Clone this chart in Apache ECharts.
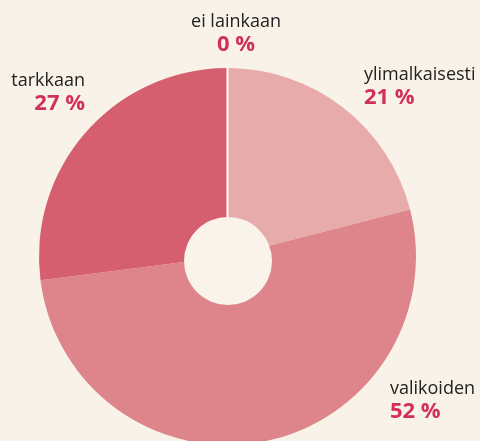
<!DOCTYPE html>
<html>
<head>
<meta charset="utf-8">
<script src="https://cdn.jsdelivr.net/npm/echarts@6/dist/echarts.min.js"></script>
<style>
html,body{margin:0;padding:0;background:#f9f2e8;}
#c{width:480px;height:441px;}
</style>
</head>
<body>
<div id="c"></div>
<script>
const categories = ['ei lainkaan', 'ylimalkaisesti', 'valikoiden', 'tarkkaan'];
const values = [0, 21, 52, 27];
const colors = ['#ffffff', '#e8abab', '#de848b', '#d65f6f'];
// label anchor positions (layout only)
const labelPos = [
  {x: 236, y: 11, align: 'center'},
  {x: 364, y: 64, align: 'left'},
  {x: 390, y: 378, align: 'left'},
  {x: 85, y: 70, align: 'right'}
];

const chart = echarts.init(document.getElementById('c'), null, {renderer: 'canvas'});
chart.setOption({
  backgroundColor: '#f9f2e8',
  animation: false,
  series: [{
    type: 'pie',
    center: [227.5, 256.5],
    radius: [0, 188.5],
    startAngle: 90,
    clockwise: true,
    avoidLabelOverlap: false,
    minAngle: 0,
    z: 1,
    data: categories.map((n, i) => ({
      name: n,
      value: values[i],
      itemStyle: {color: colors[i]}
    })),
    label: {
      show: true,
      position: 'outside',
      formatter: '{n|{b}}\n{p|{c} %}',
      rich: {
        n: {fontFamily: 'Open Sans', fontSize: 18, color: '#222222', lineHeight: 22},
        p: {fontFamily: 'Open Sans', fontSize: 22, fontWeight: 'bold', color: '#d1305c', lineHeight: 24}
      }
    },
    labelLine: {show: false},
    labelLayout: function (params) {
      const p = labelPos[params.dataIndex];
      return {x: p.x, y: p.y, align: p.align, verticalAlign: 'top', hideOverlap: false};
    },
    emphasis: {disabled: true}
  }, {
    type: 'pie',
    silent: true,
    center: [228, 261],
    radius: [0, 44],
    z: 3,
    label: {show: false},
    labelLine: {show: false},
    itemStyle: {color: '#f9f3ea'},
    data: [{value: 1, name: ''}],
    emphasis: {disabled: true}
  }]
});

// Draw the zero-value slice as a white radial line, using the library's own pie layout
(function () {
  const model = chart.getModel();
  const series = model && model.getSeriesByIndex(0);
  if (!series) return;
  const data = series.getData();
  const lines = [];
  data.each(function (idx) {
    if (data.get('value', idx) !== 0) return;
    const lay = data.getItemLayout(idx);
    if (!lay) return;
    const a = lay.startAngle;
    lines.push({
      type: 'line',
      silent: true,
      z: 2,
      shape: {
        x1: lay.cx + lay.r * Math.cos(a), y1: lay.cy + lay.r * Math.sin(a),
        x2: lay.cx, y2: lay.cy
      },
      style: {stroke: '#ffffff', lineWidth: 2}
    });
  });
  chart.setOption({graphic: lines});
})();
</script>
</body>
</html>
